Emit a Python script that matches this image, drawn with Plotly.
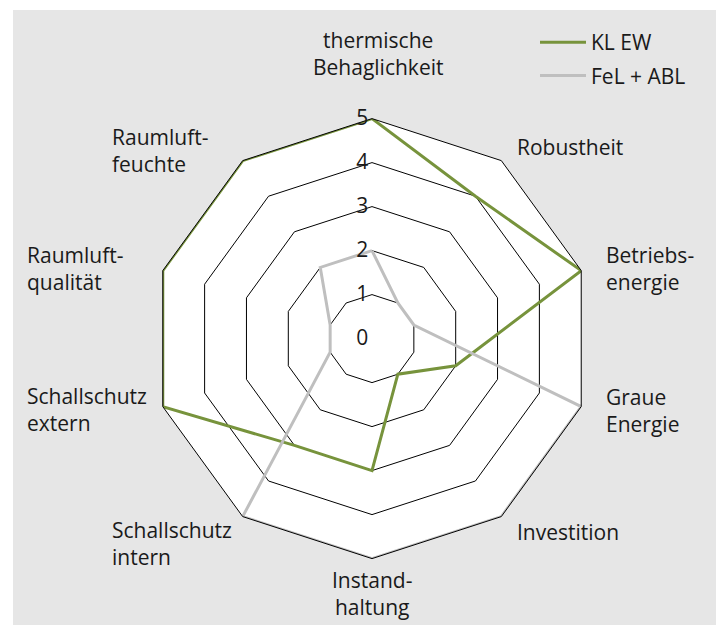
import plotly.graph_objects as go

kategorien = ['thermische Behaglichkeit', 'Robustheit', 'Betriebsenergie', 'Graue Energie',
              'Investition', 'Instandhaltung', 'Schallschutz intern', 'Schallschutz extern',
              'Raumluftqualität', 'Raumluftfeuchte']
beschriftung = ['thermische<br>Behaglichkeit', 'Robustheit', 'Betriebs-<br>energie', 'Graue<br>Energie',
                'Investition', 'Instand-<br>haltung', 'Schallschutz<br>intern', 'Schallschutz<br>extern',
                'Raumluft-<br>qualität', 'Raumluft-<br>feuchte']
kl_ew = [5, 4, 5, 2, 1, 3, 3, 5, 5, 5]
fel_abl = [2, 1, 1, 5, 5, 5, 5, 1, 1, 2]

gruen = '#77933c'
grau = '#bfbfbf'
schrift = dict(family='Open Sans', size=21, color='#1a1a1a')

# Browser-Rand von 8 px schon abgezogen
W, H = 716, 617
# Lage der Achsenbeschriftungen (px, links oben), Ausrichtung
lage = [(370, 46, 'center'), (507, 139, 'left'), (596, 260, 'left'), (596, 402, 'left'),
        (507, 524, 'left'), (364, 585, 'center'), (102, 535, 'left'), (17, 401, 'left'),
        (17, 260, 'left'), (102, 143, 'left')]

fig = go.Figure()
# Polygon schliessen
fig.add_trace(go.Scatterpolar(r=kl_ew + kl_ew[:1], theta=kategorien + kategorien[:1],
                              mode='lines', name='KL EW', legendgroup='a',
                              line=dict(color=gruen, width=3)))
fig.add_trace(go.Scatterpolar(r=fel_abl + fel_abl[:1], theta=kategorien + kategorien[:1],
                              mode='lines', name='FeL + ABL', legendgroup='b',
                              line=dict(color=grau, width=3)))

annots = []
for txt, (x, y, a) in zip(beschriftung, lage):
    annots.append(dict(text=txt, x=x / W, y=1 - y / H, xref='paper', yref='paper',
                       xanchor='center' if a == 'center' else 'left', yanchor='middle',
                       align=a, showarrow=False, font=schrift))

fig.update_layout(
    width=W, height=H,
    margin=dict(l=0, r=0, t=0, b=0),
    paper_bgcolor='white',
    font=schrift,
    shapes=[dict(type='rect', xref='paper', yref='paper', x0=5 / W, x1=709 / W, y0=0, y1=615 / H,
                 fillcolor='#e6e6e6', line=dict(width=0), layer='below')],
    annotations=annots,
    polar=dict(
        domain=dict(x=[144 / W, 584 / W], y=[66.4 / H, 506.4 / H]),
        bgcolor='white',
        gridshape='linear',
        angularaxis=dict(rotation=90, direction='clockwise', showgrid=False, showline=True,
                         linecolor='black', linewidth=1, ticks='', showticklabels=False),
        radialaxis=dict(range=[0, 5], dtick=1, angle=90, side='counterclockwise', tickangle=90,
                        showline=False, gridcolor='black', gridwidth=1, ticks='', tickfont=schrift),
    ),
    legend=dict(x=527 / W, y=1 - 14 / H, xanchor='left', yanchor='top', bgcolor='rgba(0,0,0,0)',
                font=schrift, tracegroupgap=3, itemwidth=46),
)

fig.write_html("out.html")
